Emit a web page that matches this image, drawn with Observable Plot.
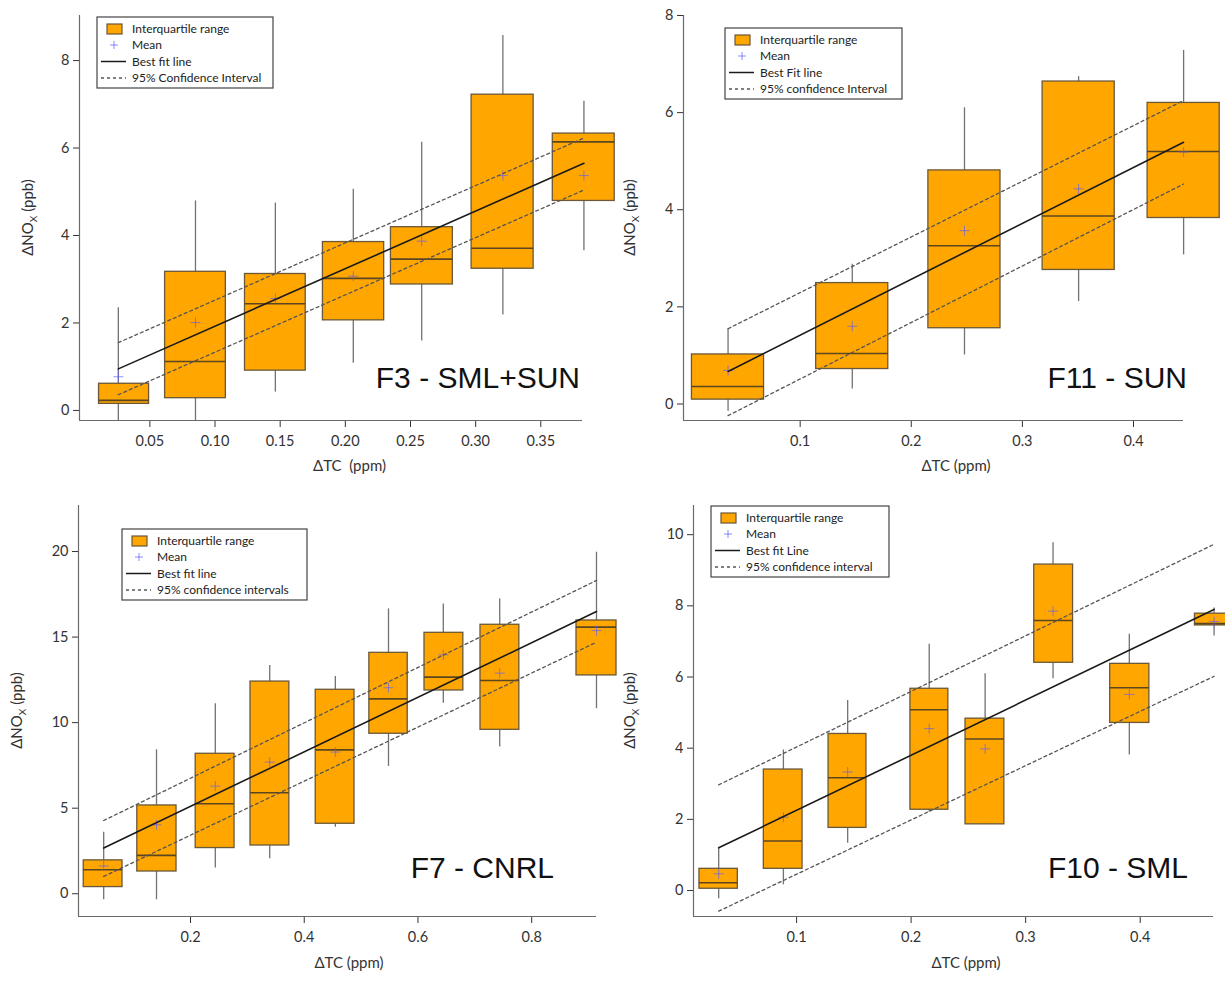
<!DOCTYPE html>
<html>
<head>
<meta charset="utf-8">
<script src="https://cdn.jsdelivr.net/npm/d3@7"></script>
<script src="https://cdn.jsdelivr.net/npm/@observablehq/plot@0.6"></script>
<style>
  body { margin: 0; background: #fff; }
  #page { position: relative; width: 1225px; height: 983px; overflow: hidden; }
  .panel { position: absolute; }
  .panel svg { overflow: visible; }
</style>
</head>
<body>
<div id="page"></div>
<script>
// ---------- F3 - SML+SUN ----------
const f3Tc        = [0.0258, 0.0850, 0.1463, 0.2061, 0.2586, 0.3209, 0.3831];
const f3BinLo     = [0.0110, 0.0617, 0.1230, 0.1828, 0.2350, 0.2969, 0.3592];
const f3BinHi     = [0.0494, 0.1083, 0.1696, 0.2298, 0.2825, 0.3445, 0.4067];
const f3Q1        = [0.15, 0.28, 0.91, 2.06, 2.88, 3.24, 4.79];
const f3Median    = [0.23, 1.12, 2.44, 3.02, 3.46, 3.71, 6.14];
const f3Q3        = [0.61, 3.17, 3.12, 3.85, 4.19, 7.22, 6.33];
const f3WhiskerLo = [-0.23, -0.23, 0.42, 1.08, 1.59, 2.18, 3.65];
const f3WhiskerHi = [2.35, 4.79, 4.74, 5.06, 6.13, 8.57, 7.07];
const f3Mean      = [0.77, 2.01, 2.56, 3.07, 3.87, 5.37, 5.37];
const f3Fit       = [0.95, 5.65];
const f3CiUpper   = [1.55, 6.23];
const f3CiLower   = [0.36, 5.04];
const f3Legend    = ["Interquartile range", "Mean", "Best fit line", "95% Confidence Interval"];

// ---------- F11 - SUN ----------
const f11Tc        = [0.0351, 0.1469, 0.2479, 0.3506, 0.4451];
const f11BinLo     = [0.0026, 0.1144, 0.2154, 0.3182, 0.4127];
const f11BinHi     = [0.0675, 0.1793, 0.2803, 0.3831, 0.4776];
const f11Q1        = [0.09, 0.72, 1.56, 2.76, 3.83];
const f11Median    = [0.36, 1.04, 3.26, 3.87, 5.20];
const f11Q3        = [1.02, 2.49, 4.81, 6.64, 6.20];
const f11WhiskerLo = [-0.15, 0.31, 1.01, 2.11, 3.07];
const f11WhiskerHi = [1.55, 2.88, 6.10, 6.74, 7.28];
const f11Mean      = [0.69, 1.60, 3.57, 4.43, 5.19];
const f11Fit       = [0.67, 5.39];
const f11CiUpper   = [1.55, 6.25];
const f11CiLower   = [-0.24, 4.53];
const f11Legend    = ["Interquartile range", "Mean", "Best Fit line", "95% confidence Interval"];

// ---------- F7 - CNRL ----------
const f7Tc        = [0.0473, 0.1402, 0.2436, 0.3393, 0.4547, 0.5482, 0.6446, 0.7438, 0.9140];
const f7BinLo     = [0.0122, 0.1064, 0.2091, 0.3055, 0.4202, 0.5145, 0.6115, 0.7100, 0.8788];
const f7BinHi     = [0.0804, 0.1754, 0.2774, 0.3738, 0.4884, 0.5820, 0.6798, 0.7783, 0.9492];
const f7Q1        = [0.39, 1.30, 2.67, 2.82, 4.09, 9.35, 11.88, 9.58, 12.76];
const f7Median    = [1.40, 2.24, 5.26, 5.90, 8.41, 11.39, 12.66, 12.46, 15.58];
const f7Q3        = [1.95, 5.16, 8.18, 12.40, 11.92, 14.08, 15.25, 15.72, 15.97];
const f7WhiskerLo = [-0.35, -0.35, 1.50, 2.04, 3.89, 7.44, 11.14, 8.57, 10.81];
const f7WhiskerHi = [3.60, 8.41, 11.10, 13.34, 12.70, 16.65, 16.94, 17.23, 19.96];
const f7Mean      = [1.62, 4.03, 6.29, 7.69, 8.28, 12.04, 13.96, 12.89, 15.38];
const f7Fit       = [2.67, 16.49];
const f7CiUpper   = [4.28, 18.31];
const f7CiLower   = [1.01, 14.70];
const f7Legend    = ["Interquartile range", "Mean", "Best fit line", "95% confidence intervals"];

// ---------- F10 - SML ----------
const f10Tc        = [0.0320, 0.0885, 0.1446, 0.2158, 0.2646, 0.3239, 0.3905, 0.4645];
const f10BinLo     = [0.0152, 0.0714, 0.1279, 0.1994, 0.2475, 0.3075, 0.3738, 0.4478];
const f10BinHi     = [0.0487, 0.1052, 0.1610, 0.2325, 0.2814, 0.3414, 0.4080, 0.4819];
const f10Q1        = [0.05, 0.61, 1.76, 2.27, 1.86, 6.40, 4.71, 7.45];
const f10Median    = [0.22, 1.39, 3.17, 5.08, 4.26, 7.59, 5.70, 7.50];
const f10Q3        = [0.61, 3.40, 4.40, 5.67, 4.83, 9.16, 6.37, 7.78];
const f10WhiskerLo = [-0.23, 0.16, 1.33, 2.20, 1.86, 5.95, 3.81, 7.15];
const f10WhiskerHi = [1.18, 3.95, 5.34, 6.92, 6.09, 9.77, 7.20, 7.94];
const f10Mean      = [0.47, 2.06, 3.33, 4.55, 3.98, 7.85, 5.51, 7.56];
const f10Fit       = [1.20, 7.90];
const f10CiUpper   = [2.97, 9.73];
const f10CiLower   = [-0.58, 6.02];
const f10Legend    = ["Interquartile range", "Mean", "Best fit Line", "95% confidence interval"];

// Tick values
const f3XTicks  = [0.05, 0.10, 0.15, 0.20, 0.25, 0.30, 0.35];
const f11XTicks = [0.1, 0.2, 0.3, 0.4];
const f7XTicks  = [0.2, 0.4, 0.6, 0.8];
const f10XTicks = [0.1, 0.2, 0.3, 0.4];
const f3YTicks  = [0, 2, 4, 6, 8];
const f11YTicks = [0, 2, 4, 6, 8];
const f7YTicks  = [0, 5, 10, 15, 20];
const f10YTicks = [0, 2, 4, 6, 8, 10];

// Colours
const BOX_FILL = "#ffa600";
const BOX_EDGE = "#6a5838";
const MEDIAN   = "#5c4620";
const WHISKER  = "#727272";
const MEAN     = "#5a5aff";
const FIT      = "#1a1a1a";
const CI       = "#555555";
const AXIS     = "#6a6a6a";
const TEXT     = "#333333";

// Thin "+" marker for the means
const thinPlus = {
  draw(ctx, size) {
    const r = Math.sqrt(size / Math.PI);
    ctx.moveTo(-r, 0); ctx.lineTo(r, 0);
    ctx.moveTo(0, -r); ctx.lineTo(0, r);
  }
};

const panels = [
  { id: "F3 - SML+SUN", left: 0, top: 0, width: 612, height: 490,
    margin: [15, 30, 70, 79], xDomain: [-0.004, 0.382], yDomain: [-0.23, 9.03],
    xTicks: f3XTicks, yTicks: f3YTicks, xFormat: ".2f", xTitle: "ΔTC  (ppm)",
    xTitleShift: 19, xTitleDrop: 46, yTitleGap: 51, labelDx: -2, labelRise: 32,
    legend: f3Legend, legendAt: [97, 17], legendW: 176,
    tc: f3Tc, binLo: f3BinLo, binHi: f3BinHi, q1: f3Q1, median: f3Median, q3: f3Q3,
    whiskerLo: f3WhiskerLo, whiskerHi: f3WhiskerHi, mean: f3Mean,
    fit: f3Fit, ciUpper: f3CiUpper, ciLower: f3CiLower },
  { id: "F11 - SUN", left: 610, top: 0, width: 615, height: 490,
    margin: [15, 42, 70, 73], xDomain: [-0.005, 0.445], yDomain: [-0.34, 8],
    xTicks: f11XTicks, yTicks: f11YTicks, xFormat: ".1f", xTitle: "ΔTC (ppm)",
    xTitleShift: 23, xTitleDrop: 46, yTitleGap: 53, labelDx: 4, labelRise: 32,
    legend: f11Legend, legendAt: [115, 28], legendW: 177,
    tc: f11Tc, binLo: f11BinLo, binHi: f11BinHi, q1: f11Q1, median: f11Median, q3: f11Q3,
    whiskerLo: f11WhiskerLo, whiskerHi: f11WhiskerHi, mean: f11Mean,
    fit: f11Fit, ciUpper: f11CiUpper, ciLower: f11CiLower },
  { id: "F7 - CNRL", left: 0, top: 490, width: 612, height: 493,
    margin: [15, 16, 67, 78], xDomain: [0.003, 0.914], yDomain: [-1.33, 22.69],
    xTicks: f7XTicks, yTicks: f7YTicks, xFormat: ".1f", xTitle: "ΔTC (ppm)",
    xTitleShift: 12, xTitleDrop: 47, yTitleGap: 61, labelDx: -42, labelRise: 38,
    legend: f7Legend, legendAt: [122, 39], legendW: 185,
    tc: f7Tc, binLo: f7BinLo, binHi: f7BinHi, q1: f7Q1, median: f7Median, q3: f7Q3,
    whiskerLo: f7WhiskerLo, whiskerHi: f7WhiskerHi, mean: f7Mean,
    fit: f7Fit, ciUpper: f7CiUpper, ciLower: f7CiLower },
  { id: "F10 - SML", left: 610, top: 490, width: 615, height: 493,
    margin: [15, 12, 67, 83], xDomain: [0.01, 0.464], yDomain: [-0.73, 10.82],
    xTicks: f10XTicks, yTicks: f10YTicks, xFormat: ".1f", xTitle: "ΔTC (ppm)",
    xTitleShift: 13, xTitleDrop: 47, yTitleGap: 63, labelDx: -25, labelRise: 38,
    legend: f10Legend, legendAt: [101, 16], legendW: 178,
    tc: f10Tc, binLo: f10BinLo, binHi: f10BinHi, q1: f10Q1, median: f10Median, q3: f10Q3,
    whiskerLo: f10WhiskerLo, whiskerHi: f10WhiskerHi, mean: f10Mean,
    fit: f10Fit, ciUpper: f10CiUpper, ciLower: f10CiLower }
];

const page = document.getElementById("page");

function drawPanel(p) {
  const boxes = p.tc.map((x, i) => ({
    x, x1: p.binLo[i], x2: p.binHi[i],
    q1: p.q1[i], med: p.median[i], q3: p.q3[i],
    lo: p.whiskerLo[i], hi: p.whiskerHi[i], mean: p.mean[i]
  }));
  const ends = [p.tc[0], p.tc[p.tc.length - 1]];
  const fitRows = ends.map((x, i) => ({ x, y: p.fit[i] }));
  const ciRows = [
    ...ends.map((x, i) => ({ x, y: p.ciUpper[i], side: "upper" })),
    ...ends.map((x, i) => ({ x, y: p.ciLower[i], side: "lower" }))
  ];
  const [mt, mr, mb, ml] = p.margin;

  const chart = Plot.plot({
    width: p.width, height: p.height,
    marginTop: mt, marginRight: mr, marginBottom: mb, marginLeft: ml,
    style: { fontFamily: "Lato, 'Open Sans', sans-serif", fontSize: "14.5px", color: TEXT, background: "transparent", overflow: "visible" },
    x: { domain: p.xDomain, ticks: p.xTicks, tickFormat: d3.format(p.xFormat), tickSize: 7, tickPadding: 8, label: null },
    y: { domain: p.yDomain, ticks: p.yTicks, tickFormat: d3.format("d"), tickSize: 6, tickPadding: 4, label: null },
    marks: [
      Plot.ruleX(boxes, { x: "x", y1: "lo", y2: "hi", stroke: WHISKER, strokeWidth: 1.3 }),
      Plot.rect(boxes, { x1: "x1", x2: "x2", y1: "q1", y2: "q3", fill: BOX_FILL, stroke: BOX_EDGE, strokeWidth: 1.3 }),
      Plot.ruleY(boxes, { y: "med", x1: "x1", x2: "x2", stroke: MEDIAN, strokeWidth: 1.6 }),
      Plot.dot(boxes, { x: "x", y: "mean", symbol: thinPlus, r: 5, stroke: MEAN, strokeOpacity: 0.65, strokeWidth: 1 }),
      Plot.line(fitRows, { x: "x", y: "y", stroke: FIT, strokeWidth: 1.6 }),
      Plot.line(ciRows, { x: "x", y: "y", z: "side", stroke: CI, strokeWidth: 1.3, strokeDasharray: "3,3" }),
      Plot.ruleX([p.xDomain[0]], { stroke: AXIS, strokeWidth: 1.2 }),
      Plot.ruleY([p.yDomain[0]], { stroke: AXIS, strokeWidth: 1.2 })
    ]
  });

  const holder = document.createElement("div");
  holder.className = "panel";
  holder.style.left = p.left + "px";
  holder.style.top = p.top + "px";
  holder.appendChild(chart);
  page.appendChild(holder);

  const svg = d3.select(chart);
  const [x0, x1] = chart.scale("x").range;
  const [y0, y1] = chart.scale("y").range;

  // x axis title
  svg.append("text")
    .attr("x", (x0 + x1) / 2 + p.xTitleShift)
    .attr("y", y0 + p.xTitleDrop)
    .attr("dy", "0.35em")
    .attr("text-anchor", "middle")
    .style("white-space", "pre")
    .attr("fill", TEXT)
    .attr("font-size", 15)
    .text(p.xTitle);

  // y axis title with subscript
  const yt = svg.append("text")
    .attr("transform", `translate(${x0 - p.yTitleGap},${(y0 + y1) / 2}) rotate(-90)`)
    .attr("text-anchor", "middle")
    .attr("dy", "0.35em")
    .attr("fill", TEXT)
    .attr("font-size", 15);
  yt.append("tspan").text("ΔNO");
  yt.append("tspan").attr("font-size", 10).attr("dy", 4).text("X");
  yt.append("tspan").attr("dy", -4).text(" (ppb)");

  // panel label
  svg.append("text")
    .attr("x", x1 + p.labelDx)
    .attr("y", y0 - p.labelRise)
    .attr("text-anchor", "end")
    .attr("font-family", "'Liberation Sans', Arial, sans-serif")
    .attr("font-size", 30)
    .attr("fill", "#111")
    .text(p.id);

  // legend
  const [lx, ly] = p.legendAt;
  const lg = svg.append("g").attr("transform", `translate(${lx},${ly})`)
    .attr("font-family", "Lato, sans-serif").attr("font-size", 12).attr("fill", "#222")
    .attr("text-anchor", "start");
  lg.append("rect").attr("width", p.legendW).attr("height", 71)
    .attr("fill", "#fff").attr("stroke", "#444").attr("stroke-width", 1.2);
  const rows = [12, 28, 44.5, 61];
  lg.append("rect").attr("x", 10).attr("y", rows[0] - 5).attr("width", 15).attr("height", 10)
    .attr("fill", BOX_FILL).attr("stroke", BOX_EDGE).attr("stroke-width", 1.2);
  lg.append("path").attr("d", `M13,${rows[1]}h8M17,${rows[1] - 4}v8`)
    .attr("stroke", MEAN).attr("stroke-opacity", 0.7).attr("fill", "none");
  lg.append("line").attr("x1", 4).attr("x2", 29).attr("y1", rows[2]).attr("y2", rows[2])
    .attr("stroke", FIT).attr("stroke-width", 1.5);
  lg.append("line").attr("x1", 4).attr("x2", 29).attr("y1", rows[3]).attr("y2", rows[3])
    .attr("stroke", CI).attr("stroke-width", 1.3).attr("stroke-dasharray", "3,3");
  p.legend.forEach((t, i) => {
    lg.append("text").attr("x", 35).attr("y", rows[i]).attr("dy", "0.35em")
      .attr("text-anchor", "start").text(t);
  });
}

panels.forEach(drawPanel);
</script>
</body>
</html>
